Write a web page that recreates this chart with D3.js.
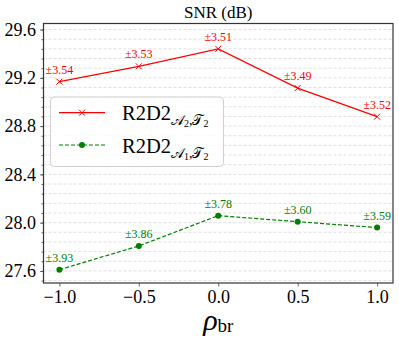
<!DOCTYPE html>
<meta charset="utf-8">
<style>
body { margin: 0; background: #fff; }
.grid line { stroke: #d8d8d8; stroke-width: 0.8; stroke-dasharray: 3,2; }
</style>
<script src="https://d3js.org/d3.v7.min.js"></script>
<body>
<svg id="chart" width="399" height="342"></svg>
<script>

// data
var rho = [-1.0, -0.5, 0.0, 0.5, 1.0];
var snrA2 = [29.168, 29.295, 29.44, 29.115, 28.878];
var stdA2 = ["±3.54", "±3.53", "±3.51", "±3.49", "±3.52"];
var snrA1 = [27.61, 27.807, 28.058, 28.008, 27.959];
var stdA1 = ["±3.93", "±3.86", "±3.78", "±3.60", "±3.59"];
var xTicks = [-1.0, -0.5, 0.0, 0.5, 1.0];
var yTicks = [27.6, 28.0, 28.4, 28.8, 29.2, 29.6];
var yMinor = d3.range(0, 27).map(function(i) { return +(27.52 + 0.08 * i).toFixed(2); });

var margin = {left: 43.5, right: 6, top: 23.5, bottom: 59};
var W = 399, H = 342;
var serif = "'Liberation Serif', 'Times New Roman', serif";

var svg = d3.select("#chart");

var x = d3.scaleLinear().domain([-1.1, 1.1]).range([margin.left, W - margin.right]);
var y = d3.scaleLinear().domain([27.5, 29.65]).range([H - margin.bottom, margin.top]);

// grid
svg.append("g").attr("class", "grid")
  .selectAll("line").data(yMinor).enter().append("line")
    .attr("x1", x.range()[0]).attr("x2", x.range()[1])
    .attr("y1", function(d) { return y(d); }).attr("y2", function(d) { return y(d); });

// axes
svg.append("g").attr("transform", "translate(" + margin.left + ",0)")
  .call(d3.axisLeft(y).tickValues(yTicks).tickFormat(d3.format(".1f")).tickSize(3.5).tickPadding(4));
svg.append("g").attr("transform", "translate(" + margin.left + ",0)")
  .call(d3.axisLeft(y).tickValues(yMinor).tickFormat("").tickSize(2));
svg.append("g").attr("transform", "translate(0," + (H - margin.bottom) + ")")
  .call(d3.axisBottom(x).tickValues(xTicks).tickFormat(d3.format(".1f")).tickSize(3.5).tickPadding(4));

svg.selectAll(".domain").remove();
svg.selectAll(".tick line").attr("stroke", "#444").attr("stroke-width", 0.8);
svg.selectAll(".tick text").attr("font-size", 18).attr("fill", "#000");

// frame
svg.append("rect")
  .attr("x", x.range()[0]).attr("y", y.range()[1])
  .attr("width", x.range()[1] - x.range()[0]).attr("height", y.range()[0] - y.range()[1])
  .attr("fill", "none").attr("stroke", "#333").attr("stroke-width", 1.2);

// series
var line = d3.line().x(function(d) { return x(d[0]); }).y(function(d) { return y(d[1]); });
var red = "#ff0000", green = "#008000";

var ptsA2 = rho.map(function(r, i) { return [r, snrA2[i]]; });
var ptsA1 = rho.map(function(r, i) { return [r, snrA1[i]]; });

svg.append("path").datum(ptsA2).attr("d", line)
  .attr("fill", "none").attr("stroke", red).attr("stroke-width", 1.2);
svg.append("path").datum(ptsA1).attr("d", line)
  .attr("fill", "none").attr("stroke", green).attr("stroke-width", 1.2).attr("stroke-dasharray", "4,2");

function xMark(g, cx, cy, c) {
  g.append("path").attr("d", "M" + (cx - 3) + "," + (cy - 3) + "L" + (cx + 3) + "," + (cy + 3) +
      "M" + (cx - 3) + "," + (cy + 3) + "L" + (cx + 3) + "," + (cy - 3))
    .attr("stroke", c).attr("stroke-width", 1);
}
ptsA2.forEach(function(p) { xMark(svg, x(p[0]), y(p[1]), red); });
svg.selectAll(".dotA1").data(ptsA1).enter().append("circle")
  .attr("cx", function(d) { return x(d[0]); }).attr("cy", function(d) { return y(d[1]); })
  .attr("r", 3).attr("fill", green);

// labels
svg.selectAll(".labA2").data(ptsA2).enter().append("text")
  .attr("x", function(d) { return x(d[0]); }).attr("y", function(d) { return y(d[1]) - 8; })
  .attr("text-anchor", "middle").attr("font-size", 12).attr("fill", red)
  .text(function(d, i) { return stdA2[i]; });
svg.selectAll(".labA1").data(ptsA1).enter().append("text")
  .attr("x", function(d) { return x(d[0]); }).attr("y", function(d) { return y(d[1]) - 8; })
  .attr("text-anchor", "middle").attr("font-size", 12).attr("fill", green)
  .text(function(d, i) { return stdA1[i]; });

// title
svg.append("text").attr("x", (x.range()[0] + x.range()[1]) / 2).attr("y", 18)
  .attr("text-anchor", "middle").attr("font-size", 17).text("SNR (dB)");

// x label
var xl = svg.append("text").attr("x", (x.range()[0] + x.range()[1]) / 2).attr("y", 330)
  .attr("text-anchor", "middle");
xl.append("tspan").attr("font-size", 30).attr("font-style", "italic").text("ρ");
xl.append("tspan").attr("font-size", 19).attr("dy", 2).text("br");

// legend
var lg = svg.append("g");
lg.append("rect").attr("x", 50.5).attr("y", 97).attr("width", 173).attr("height", 69.5).attr("rx", 4)
  .attr("fill", "#fff").attr("fill-opacity", 0.8).attr("stroke", "#d0d0d0").attr("stroke-width", 1);

var entries = [
  {c: red, dash: null, n: "2", yy: 112.7, mk: "x"},
  {c: green, dash: "4,2", n: "1", yy: 145, mk: "o"}
];
entries.forEach(function(e) {
  lg.append("line").attr("x1", 59).attr("x2", 105).attr("y1", e.yy).attr("y2", e.yy)
    .attr("stroke", e.c).attr("stroke-width", 1.2).attr("stroke-dasharray", e.dash);
  if (e.mk === "x") xMark(lg, 82, e.yy, e.c);
  else lg.append("circle").attr("cx", 82).attr("cy", e.yy).attr("r", 3).attr("fill", e.c);
  var t = lg.append("text").attr("x", 122).attr("y", e.yy + 7.5).attr("font-size", 20.5);
  t.append("tspan").text("R2D2");
  t.append("tspan").attr("font-size", 14).attr("dy", 5).text("\u{1D49C}");
  t.append("tspan").attr("font-size", 10).attr("dy", 2).text(e.n);
  t.append("tspan").attr("font-size", 14).attr("dy", -2).text(",");
  t.append("tspan").attr("font-size", 14).text("\u{1D4AF}");
  t.append("tspan").attr("font-size", 10).attr("dy", 2).text("2");
});

// everything in a Times-like face
svg.selectAll("text").style("font-family", serif);

</script>
</body>
